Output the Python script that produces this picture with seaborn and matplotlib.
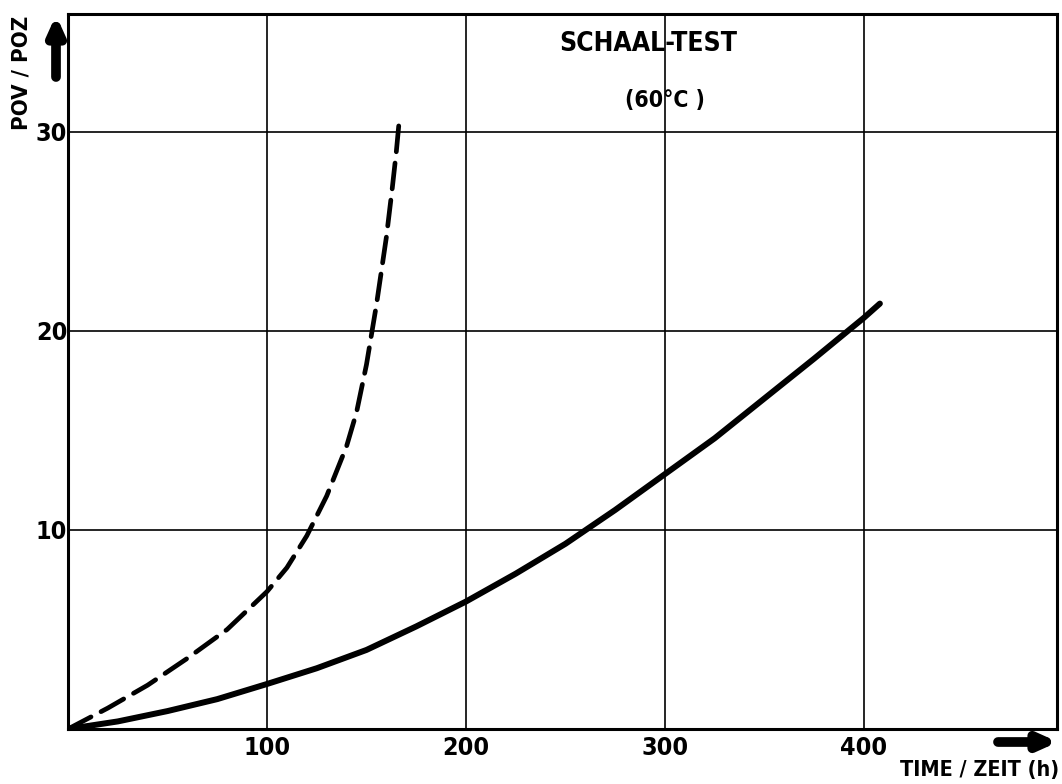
import matplotlib
matplotlib.use("Agg")
import matplotlib.pyplot as plt
import seaborn as sns
import pandas as pd

# ---- data ----
solid_time = [0, 25, 50, 75, 100, 125, 150, 175, 200, 225, 250, 275, 300,
              325, 350, 375, 400, 408]
solid_pov = [0, 0.38, 0.9, 1.5, 2.26, 3.05, 3.97, 5.15, 6.4, 7.8, 9.3, 11.0, 12.8,
             14.6, 16.6, 18.6, 20.65, 21.36]

dashed_time = [0, 20, 40, 60, 80, 100, 110, 120, 130, 140, 145, 150, 155, 160,
               163, 165, 166.5]
dashed_pov = [0, 1.05, 2.2, 3.55, 5.0, 6.9, 8.1, 9.7, 11.7, 14.2, 15.9, 18.3, 21.3,
              24.7, 27.2, 29.0, 30.6]

x_ticks = [100, 200, 300, 400]
y_ticks = [10, 20, 30]
x_label = "TIME / ZEIT (h)"
y_label = "POV / POZ"
title_1 = "SCHAAL-TEST"
title_2 = "(60°C )"

sns.set_style("white")
plt.rcParams["font.family"] = ["DejaVu Sans"]
plt.rcParams["font.stretch"] = "condensed"
plt.rcParams["text.color"] = "black"
plt.rcParams["xtick.color"] = "black"
plt.rcParams["ytick.color"] = "black"

fig = plt.figure(figsize=(10.62, 7.84), dpi=100)
ax = fig.add_axes([68 / 1062, 1 - 729 / 784, (1057 - 68) / 1062, (729 - 14) / 784])

df_s = pd.DataFrame({"t": solid_time, "v": solid_pov})
df_d = pd.DataFrame({"t": dashed_time, "v": dashed_pov})
sns.lineplot(data=df_s, x="t", y="v", ax=ax, color="black", lw=4.3,
             solid_capstyle="round", solid_joinstyle="round", sort=False, estimator=None)
sns.lineplot(data=df_d, x="t", y="v", ax=ax, color="black", lw=3.4,
             sort=False, estimator=None)
ax.lines[-1].set_dashes((5.5, 2.4))
ax.lines[-1].set_dash_capstyle("round")
ax.lines[-1].set_dash_joinstyle("round")

ax.set_xlim(0, 497)
ax.set_ylim(0, 35.9)
ax.set_xticks(x_ticks)
ax.set_yticks(y_ticks)
ax.grid(True, color="black", lw=1.2)
ax.set_axisbelow(True)
for s in ax.spines.values():
    s.set_visible(True)
    s.set_color("black")
    s.set_linewidth(2.2)
ax.tick_params(length=0, labelsize=18)
ax.tick_params(axis="y", pad=0.5)
ax.tick_params(axis="x", pad=5)
for lab in ax.get_xticklabels() + ax.get_yticklabels():
    lab.set_fontweight("bold")
ax.set_xlabel("")
ax.set_ylabel("")

fig.text(1059 / 1062, 1 - 770 / 784, x_label, ha="right", va="center",
         fontsize=15.5, fontweight="bold")
fig.text(22 / 1062, 1 - 73 / 784, y_label, ha="center", va="center",
         rotation=90, fontsize=16, fontweight="bold")
fig.text(648 / 1062, 1 - 44 / 784, title_1, ha="center", va="center",
         fontsize=19, fontweight="bold")
fig.text(665 / 1062, 1 - 100 / 784, title_2, ha="center", va="center",
         fontsize=16.5, fontweight="bold")

arrow = dict(arrowstyle="-|>,head_length=1.0,head_width=0.45", lw=7, color="black",
             shrinkA=0, shrinkB=0)
ax.annotate("", xy=(1058 / 1062, 1 - 742 / 784), xytext=(998 / 1062, 1 - 742 / 784),
            xycoords="figure fraction", textcoords="figure fraction",
            arrowprops=arrow, annotation_clip=False)
ax.annotate("", xy=(56 / 1062, 1 - 15 / 784), xytext=(56 / 1062, 1 - 77 / 784),
            xycoords="figure fraction", textcoords="figure fraction",
            arrowprops=arrow, annotation_clip=False)

fig.savefig("out.png", dpi=100)
